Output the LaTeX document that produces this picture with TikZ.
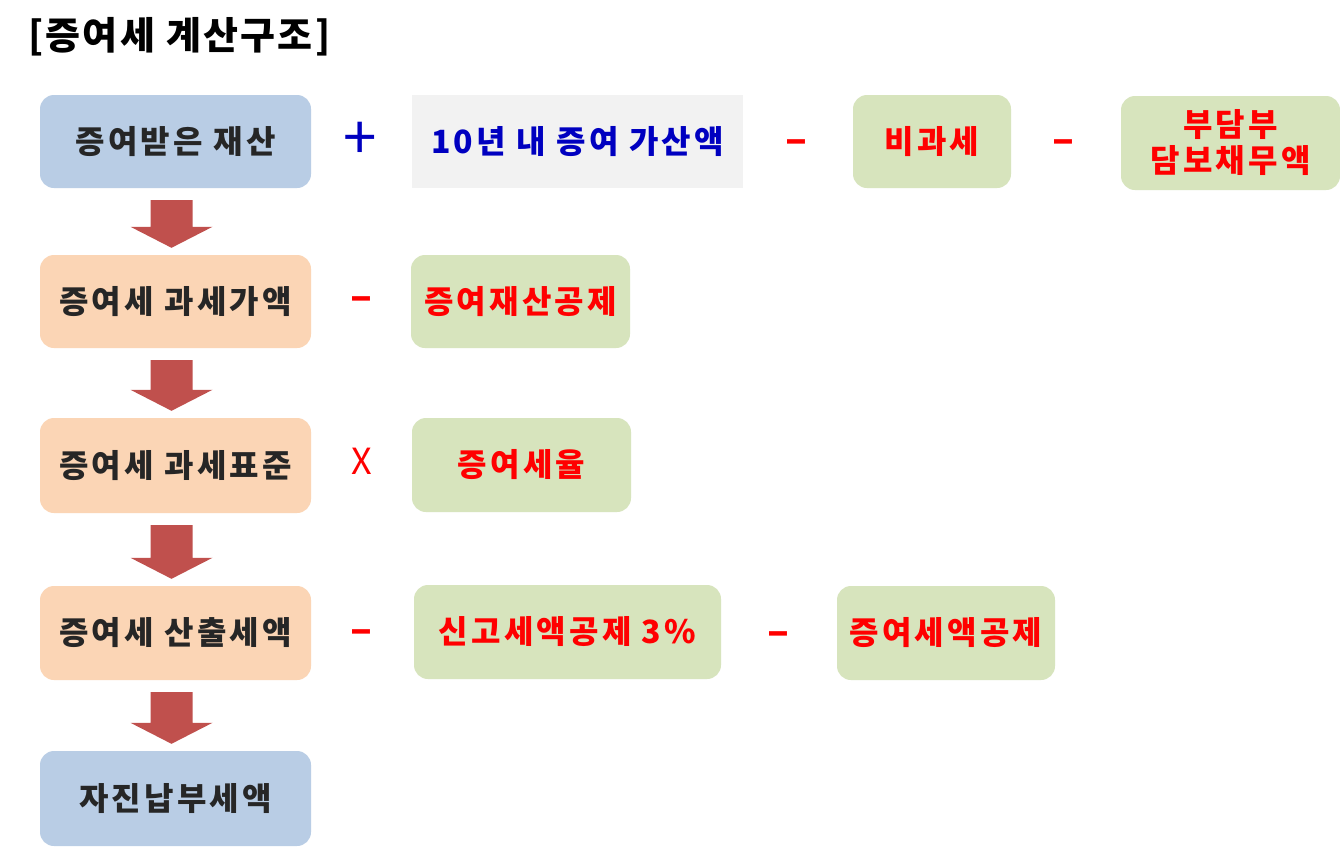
\documentclass[tikz,border=0pt]{standalone}
\usepackage{fontspec}
\setmainfont{Noto Sans CJK KR}
\definecolor{boxblue}{HTML}{B9CDE5}
\definecolor{boxpeach}{HTML}{FBD5B5}
\definecolor{boxgreen}{HTML}{D7E4BD}
\definecolor{boxgray}{HTML}{F2F2F2}
\definecolor{arrowred}{HTML}{C0504D}
\definecolor{txtdark}{HTML}{262626}
\definecolor{txtblue}{HTML}{0000C0}
\definecolor{txtred}{HTML}{FF0000}
\newcommand{\boxfont}{\fontsize{32}{38}\selectfont\bfseries\addfontfeatures{LetterSpace=10}}
\begin{document}
\begin{tikzpicture}[x=1pt,y=-1pt,
  base/.style={rectangle, inner sep=0pt, align=center, font=\boxfont},
  leftbox/.style={base, rounded corners=14pt, minimum width=271pt, minimum height=93pt, text=txtdark},
  greenbox/.style={base, rounded corners=14pt, fill=boxgreen, text=txtred, minimum height=93pt},
  graybox/.style={base, fill=boxgray, text=txtblue, minimum height=93pt},
  opminus/.style={text=txtred, font=\fontsize{40}{40}\selectfont\bfseries, inner sep=0pt},
]
\useasboundingbox (0,0) rectangle (1340,846);
\fill[white] (0,0) rectangle (1340,846);

\node[anchor=west, font=\fontsize{38}{44}\selectfont\bfseries\addfontfeatures{LetterSpace=6}, inner sep=0pt] (title) at (28,37) {[증여세 계산구조]};

% left column
\node[leftbox, fill=boxblue] (b1) at (175.5,141.5) {증여받은 재산};
\node[leftbox, fill=boxpeach] (b2) at (175.5,301.5) {증여세 과세가액};
\node[leftbox, fill=boxpeach, minimum height=95pt] (b3) at (175.5,465.5) {증여세 과세표준};
\node[leftbox, fill=boxpeach, minimum height=94pt] (b4) at (175.5,633) {증여세 산출세액};
\node[leftbox, fill=boxblue, minimum height=95pt] (b5) at (175.5,798.5) {자진납부세액};

% flow arrows
\foreach \a/\b in {b1/b2,b2/b3,b3/b4,b4/b5}{
  \fill[arrowred] ([xshift=-25pt,yshift=-12pt]\a.south) -- ([xshift=17pt,yshift=-12pt]\a.south)
     -- ([xshift=17pt,yshift=28pt]\b.north) -- ([xshift=37pt,yshift=28pt]\b.north)
     -- ([xshift=-4pt,yshift=7pt]\b.north) -- ([xshift=-45pt,yshift=28pt]\b.north)
     -- ([xshift=-25pt,yshift=28pt]\b.north) -- cycle;
}

% row 1
\node[text=txtblue, font=\fontsize{60}{60}\selectfont, inner sep=0pt] (plus1) at (360,141) {+};
\node[graybox, minimum width=331pt] (r1a) at (577.5,141.5) {10년 내 증여 가산액};
\node[opminus] (m1) at (796,147) {–};
\node[greenbox, minimum width=158pt] (r1b) at (932,141.5) {비과세};
\node[opminus] (m2) at (1063,147) {–};
\node[greenbox, minimum width=219pt, minimum height=94pt, font=\fontsize{32}{36}\selectfont\bfseries\addfontfeatures{LetterSpace=10}] (r1c) at (1230.5,143) {부담부\\담보채무액};

% row 2
\node[opminus] (m3) at (361,304) {–};
\node[greenbox, minimum width=219pt] (r2) at (520.5,301.5) {증여재산공제};

% row 3
\node[text=txtred, font=\fontsize{36}{40}\selectfont, inner sep=0pt] (x1) at (362,461) {X};
\node[greenbox, minimum width=219pt, minimum height=94pt] (r3) at (521.5,465) {증여세율};

% row 4
\node[opminus] (m4) at (361,637) {–};
\node[greenbox, minimum width=307pt, minimum height=94pt] (r4a) at (567.5,632) {신고세액공제 3\%};
\node[opminus] (m5) at (778,639) {–};
\node[greenbox, minimum width=218pt, minimum height=94pt] (r4b) at (946,633) {증여세액공제};
\end{tikzpicture}
\end{document}
